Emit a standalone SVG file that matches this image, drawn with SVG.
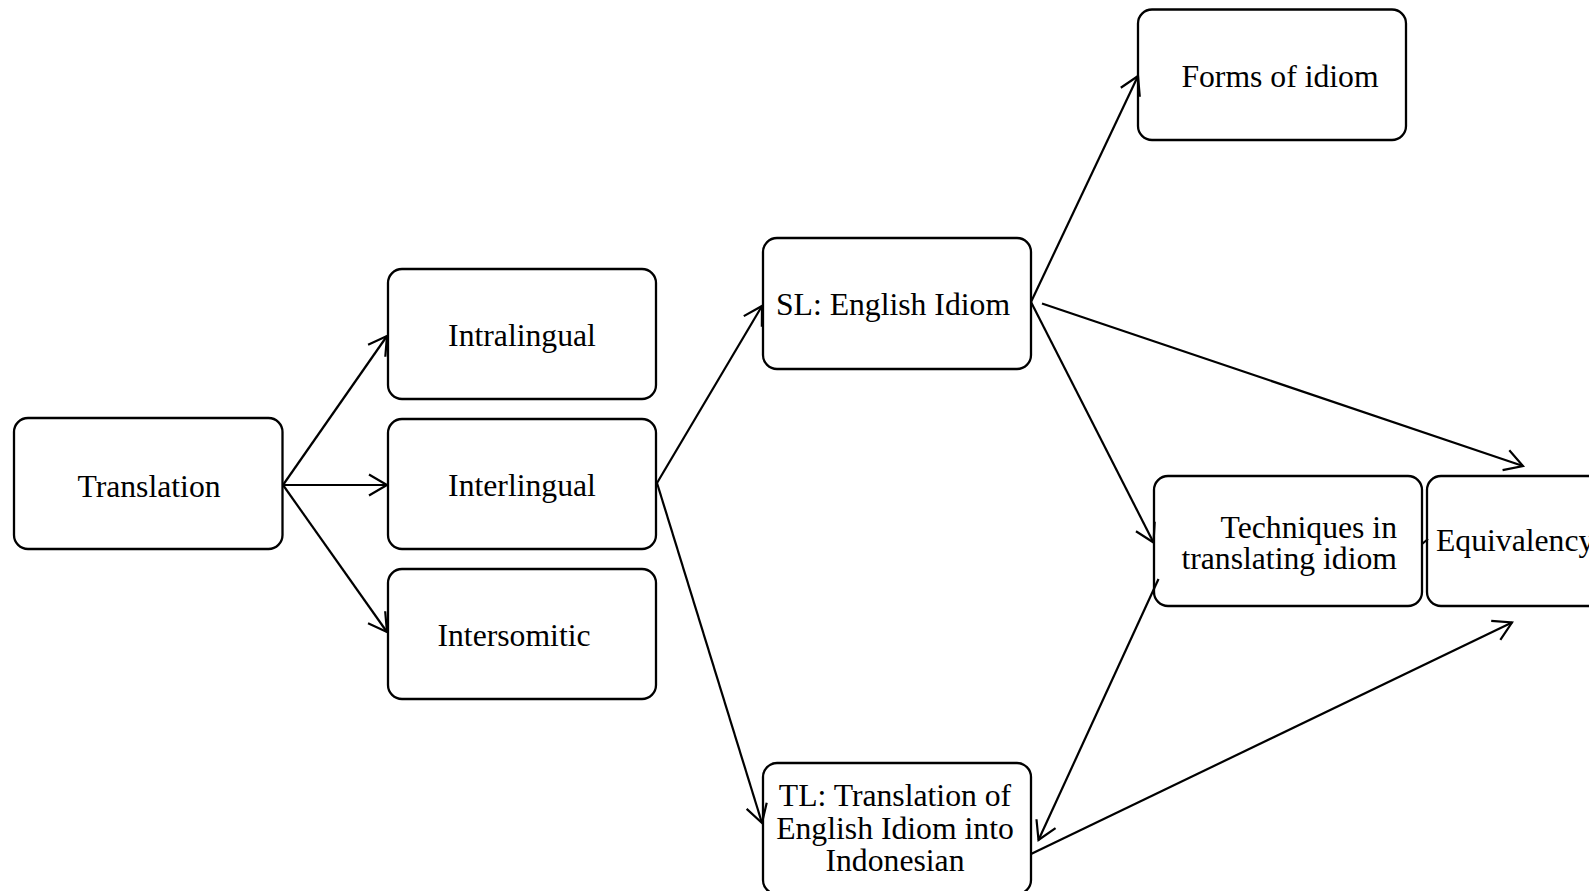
<svg xmlns="http://www.w3.org/2000/svg" width="1589" height="891" viewBox="0 0 1589 891">
<style>
.box{fill:#fff;stroke:#000;stroke-width:2.3}
.t{font-family:"Liberation Serif","Times New Roman",serif;font-size:31.7px;fill:#000}
.c{text-anchor:middle}
.e{text-anchor:end}
.ln{stroke:#000;stroke-width:2.2;fill:none}
.ar{marker-end:url(#arr)}
</style>
<defs>
<marker id="arr" markerUnits="userSpaceOnUse" viewBox="-20 -12 22 24" refX="0" refY="0" markerWidth="22" markerHeight="24" orient="auto" overflow="visible">
<path d="M-18,-10.5 L0,0 L-18,10.5" fill="none" stroke="#000" stroke-width="2.2"/>
</marker>
</defs>
<rect width="1589" height="891" fill="#fff"/>
<g id="n-translation"><rect class="box" x="14" y="418" width="268.5" height="131" rx="14"/><text class="t c" x="149" y="497">Translation</text></g>
<g id="n-intralingual"><rect class="box" x="388" y="269" width="268" height="130" rx="14"/><text class="t c" x="522" y="346">Intralingual</text></g>
<g id="n-interlingual"><rect class="box" x="388" y="419" width="268" height="130" rx="14"/><text class="t c" x="522" y="496">Interlingual</text></g>
<g id="n-intersomitic"><rect class="box" x="388" y="569" width="268" height="130" rx="14"/><text class="t c" x="514" y="646">Intersomitic</text></g>
<g id="n-sl"><rect class="box" x="763" y="238" width="268" height="131" rx="14"/><text class="t c" x="893" y="315">SL: English Idiom</text></g>
<g id="n-forms"><rect class="box" x="1138" y="9.5" width="268" height="130.5" rx="14"/><text class="t c" x="1280" y="87">Forms of idiom</text></g>
<g id="n-techniques"><rect class="box" x="1154" y="476" width="268" height="130" rx="14"/><text class="t e" x="1397" y="538">Techniques in</text><text class="t e" x="1397" y="569">translating idiom</text></g>
<g id="n-equivalency"><rect class="box" x="1427" y="476" width="268" height="130" rx="14"/><text class="t" x="1436" y="551">Equivalency</text></g>
<g id="n-tl"><rect class="box" x="763" y="763" width="268" height="131" rx="14"/><text class="t c" x="895" y="806">TL: Translation of</text><text class="t c" x="895" y="838.5">English Idiom into</text><text class="t c" x="895" y="871">Indonesian</text></g>
<g id="connectors">
<line class="ln ar" x1="283" y1="485" x2="387" y2="336"/>
<line class="ln ar" x1="283" y1="485" x2="387" y2="485"/>
<line class="ln ar" x1="283" y1="485" x2="387" y2="632"/>
<line class="ln ar" x1="657" y1="483" x2="762" y2="306"/>
<line class="ln ar" x1="657" y1="483" x2="762" y2="823"/>
<line class="ln ar" x1="1031" y1="302" x2="1138" y2="76"/>
<line class="ln ar" x1="1042" y1="303.5" x2="1523" y2="466"/>
<line class="ln ar" x1="1031" y1="302" x2="1153.5" y2="542.5"/>
<line class="ln ar" x1="1158.5" y1="579" x2="1038.5" y2="840"/>
<line class="ln ar" x1="1031" y1="854" x2="1512" y2="622.5"/>
<line class="ln" x1="1422" y1="544" x2="1428" y2="539"/>
</g>
</svg>
